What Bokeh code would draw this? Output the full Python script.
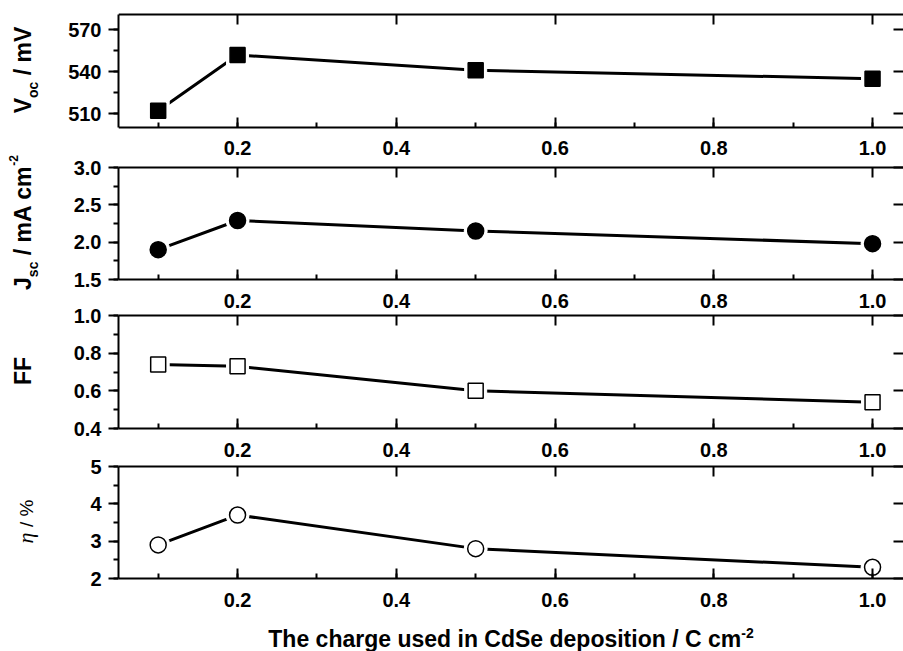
import math
from bokeh.plotting import figure
from bokeh.models import (LinearAxis, SingleIntervalTicker, NumeralTickFormatter,
                          CustomJSTickFormatter, Label, Range1d, ColumnDataSource)
from bokeh.layouts import column, row
from bokeh.embed import file_html
from bokeh.resources import INLINE

# ---------------- data ----------------
charge = [0.1, 0.2, 0.5, 1.0]          # C cm^-2
voc = [512, 552, 541, 535]              # mV
jsc = [1.90, 2.29, 2.15, 1.98]          # mA cm^-2
ff = [0.74, 0.73, 0.60, 0.54]
eta = [2.9, 3.7, 2.8, 2.3]              # %

x_ticks_interval = 0.2
x_title = "The charge used in CdSe deposition / C cm"
x_title_sup = "-2"

FONT = "Liberation Sans"
SERIF = "Liberation Serif"

# approximate Arial advance widths (em) used only to lay out multi-part labels
WB = {'T': .611, 'h': .611, 'e': .556, ' ': .278, 'c': .556, 'a': .556, 'r': .389,
      'g': .611, 'u': .611, 's': .556, 'd': .611, 'i': .278, 'n': .611, 'C': .722,
      'S': .667, 'p': .611, 'o': .611, 't': .333, '/': .278, 'm': .889, '-': .333,
      '2': .556, 'V': .667, 'J': .556, 'A': .722, 'F': .611, '%': .889}
WR = {' ': .278, '/': .278, '%': .889}


def text_w(s, size, style="bold", font=FONT):
    if font == SERIF:
        return 0.5 * size * len(s)
    tab = WB if style == "bold" else WR
    return sum(tab.get(ch, 0.56) for ch in s) * size


X0, X1 = 0.05, 1.039
W, H = 903, 651
LABW = 60          # width of the column holding the rotated y labels
LEFT = 118         # box left edge in the page
TICK_FS = "20px"

# bt/bb: page y of the panel box top/bottom; ftop/fbot: page y span of the figure
# top_standoff: distance of the x tick labels (of the panel above) from this box
panels = [
    dict(y=voc, ys=500, ye=581, iv=30, fmt="0", marker="square", filled=True, size=15,
         bt=14, bb=127, ftop=0, fbot=132, top_lab=False, top_standoff=0,
         label=[("V", 23, "bold", 22.5, FONT, 0), ("oc", 14, "bold", 32, FONT, 0),
                ("/ mV", 23, "bold", 22.5, FONT, 6.4)]),
    dict(y=jsc, ys=1.5, ye=3.0, iv=0.5, fmt="0.0", marker="circle", filled=True, size=16,
         bt=167, bb=279, ftop=132, fbot=291, top_lab=True, top_standoff=13,
         label=[("J", 23, "bold", 22.5, FONT, 0), ("sc", 14, "bold", 32, FONT, 0),
                ("/ mA cm", 23, "bold", 22.5, FONT, 6.4), ("-2", 12, "bold", 13, FONT, 0)]),
    dict(y=ff, ys=0.4, ye=1.0, iv=0.2, fmt="0.0", marker="square", filled=False, size=15,
         bt=315, bb=428, ftop=291, fbot=440, top_lab=True, top_standoff=8,
         label=[("FF", 23, "bold", 22.5, FONT, 0)]),
    dict(y=eta, ys=2, ye=5, iv=1, fmt="0", marker="circle", filled=False, size=16,
         bt=466, bb=578, ftop=440, fbot=651, top_lab=True, top_standoff=10,
         label=[("η", 22, "italic", 25, SERIF, 0), ("/ %", 19, "normal", 25.5, FONT, 5.3)]),
]

blank = CustomJSTickFormatter(code="return ''")
ppx = (W - LEFT) / (X1 - X0)

figs = []
last = len(panels) - 1
for i, pn in enumerate(panels):
    ppu = (pn["bb"] - pn["bt"]) / (pn["ye"] - pn["ys"])
    y0 = pn["ys"] - (pn["fbot"] - pn["bb"]) / ppu
    y1 = pn["ye"] + (pn["bt"] - pn["ftop"]) / ppu
    p = figure(width=W - LABW, height=pn["fbot"] - pn["ftop"], x_range=Range1d(X0, X1),
               y_range=Range1d(y0, y1),
               output_backend="svg", toolbar_location=None,
               x_axis_location=None, y_axis_location=None,
               min_border_left=LEFT - LABW, min_border_right=0,
               min_border_top=0, min_border_bottom=0)
    p.grid.visible = False
    p.outline_line_color = None
    p.background_fill_color = "white"
    p.border_fill_color = "white"

    common = dict(axis_line_width=2, major_tick_line_width=2, minor_tick_line_width=2,
                  axis_line_color="black", major_tick_line_color="black",
                  minor_tick_line_color="black",
                  major_label_text_font=FONT, major_label_text_font_style="bold",
                  major_label_text_font_size=TICK_FS, major_label_text_color="black")

    # bottom edge of the box (labels only on the last panel)
    bottom = LinearAxis(ticker=SingleIntervalTicker(interval=x_ticks_interval, num_minor_ticks=2),
                        formatter=NumeralTickFormatter(format="0.0") if i == last else blank,
                        fixed_location=pn["ys"],
                        major_tick_in=10, major_tick_out=0, minor_tick_in=5, minor_tick_out=0,
                        major_label_standoff=14 if i == last else 0, **common)
    p.add_layout(bottom, "below")

    # top edge of the box; carries the x tick labels that sit between panels
    top_ax = LinearAxis(ticker=SingleIntervalTicker(interval=x_ticks_interval, num_minor_ticks=2),
                        formatter=NumeralTickFormatter(format="0.0") if pn["top_lab"] else blank,
                        fixed_location=pn["ye"],
                        major_tick_in=10, major_tick_out=0, minor_tick_in=0, minor_tick_out=0,
                        major_label_standoff=pn["top_standoff"], **common)
    top_ax.minor_tick_line_color = None
    p.add_layout(top_ax, "above")

    left = LinearAxis(ticker=SingleIntervalTicker(interval=pn["iv"], num_minor_ticks=2),
                      formatter=NumeralTickFormatter(format=pn["fmt"]),
                      bounds=(pn["ys"], pn["ye"]),
                      major_tick_in=0, major_tick_out=10, minor_tick_in=0, minor_tick_out=5,
                      major_label_standoff=7, **common)
    p.add_layout(left, "left")

    right = LinearAxis(ticker=SingleIntervalTicker(interval=pn["iv"], num_minor_ticks=2),
                       formatter=blank, bounds=(pn["ys"], pn["ye"]), fixed_location=X1,
                       major_tick_in=10, major_tick_out=0, minor_tick_in=0, minor_tick_out=0,
                       major_label_standoff=0, **common)
    right.axis_line_color = None
    right.minor_tick_line_color = None
    p.add_layout(right, "right")

    src = ColumnDataSource(dict(x=charge, y=pn["y"]))
    p.line("x", "y", source=src, line_width=3, line_color="black")
    p.scatter("x", "y", source=src, marker=pn["marker"], size=pn["size"] + 7,
              fill_color="white", line_color="white")
    p.scatter("x", "y", source=src, marker=pn["marker"], size=pn["size"],
              fill_color="black" if pn["filled"] else "white", line_color="black",
              line_width=1.5)

    if i == last:
        # x-axis title with superscript, centred under the boxes
        tw = text_w(x_title, 23)
        sw = text_w(x_title_sup, 14)
        start_px = (LEFT + W) / 2 - (tw + sw) / 2
        mid_px = 638
        to_y = lambda py: pn["ys"] - (py - pn["bb"]) / ppu
        to_x = lambda px: X0 + (px - LEFT) / ppx
        p.add_layout(Label(x=to_x(start_px), y=to_y(mid_px), text=x_title,
                           text_align="left", text_baseline="middle", text_font=FONT,
                           text_font_size="23px", text_font_style="bold", text_color="black"))
        p.add_layout(Label(x=to_x(start_px + tw), y=to_y(mid_px - 6), text=x_title_sup,
                           text_align="left", text_baseline="middle", text_font=FONT,
                           text_font_size="14px", text_font_style="bold", text_color="black"))
    figs.append(p)

# ---- narrow figure holding rotated y-axis titles (pixel coordinates, y from top) ----
lab = figure(width=LABW, height=H, x_range=Range1d(0, LABW), y_range=Range1d(H, 0),
             output_backend="svg", toolbar_location=None,
             x_axis_location=None, y_axis_location=None,
             min_border_left=0, min_border_right=0, min_border_top=0, min_border_bottom=0)
lab.grid.visible = False
lab.outline_line_color = None
lab.background_fill_color = "white"
lab.border_fill_color = "white"
for pn in panels:
    pieces = pn["label"]
    cy = (pn["bt"] + pn["bb"]) / 2 - 1
    total = sum(text_w(t, s, st, f) + g for (t, s, st, xm, f, g) in pieces)
    pos = cy + total / 2
    for (t, s, st, xm, f, g) in pieces:
        pos -= g
        lab.add_layout(Label(x=xm, y=pos, text=t, angle=math.pi / 2,
                             text_align="left", text_baseline="middle",
                             text_font=f, text_font_size=f"{s}px", text_font_style=st,
                             text_color="black"))
        pos -= text_w(t, s, st, f)

layout = row(lab, column(*figs, spacing=0), spacing=0)
open("out.html", "w").write(file_html(layout, INLINE))
